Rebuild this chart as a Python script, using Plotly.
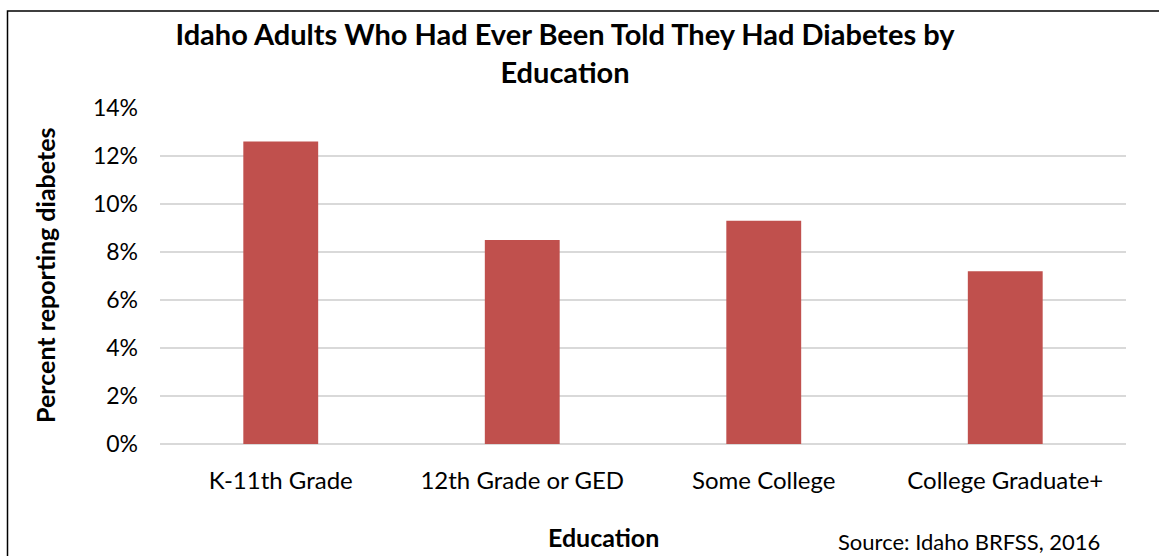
import plotly.graph_objects as go

categories = ["K-11th Grade", "12th Grade or GED", "Some College", "College Graduate+"]
values = [12.6, 8.5, 9.3, 7.2]
tick_vals = [0, 2, 4, 6, 8, 10, 12, 14]
tick_text = ["0%", "2%", "4%", "6%", "8%", "10%", "12%", "14%"]

title_text = "Idaho Adults Who Had Ever Been Told They Had Diabetes by<br>Education"
x_title = "Education"
y_title = "Percent reporting diabetes"
source_text = "Source: Idaho BRFSS, 2016"

W, H = 1159, 556
L, R, T, B = 160, 33, 108, 112
pw, ph = W - L - R, H - T - B

def px_x(px):
    return (px - L) / pw

def px_y(py):
    return (H - B - py) / ph

FONT = "Lato"

fig = go.Figure(
    go.Bar(
        x=categories,
        y=values,
        marker=dict(color="#C0504D", line=dict(width=0)),
        width=0.31,
        hoverinfo="x+y",
    )
)

fig.update_layout(
    width=W,
    height=H,
    margin=dict(l=L, r=R, t=T, b=B),
    paper_bgcolor="white",
    plot_bgcolor="white",
    showlegend=False,
    font=dict(family=FONT, color="black"),
    title=dict(
        text="<b>" + title_text + "</b>",
        x=px_x(565),
        xref="paper",
        xanchor="center",
        y=1 - 45 / H,
        yref="container",
        yanchor="top",
        font=dict(family=FONT, size=29, color="black"),
    ),
    xaxis=dict(
        range=[-0.5, 3.5],
        showgrid=False,
        showline=False,
        zeroline=False,
        ticks="",
        tickfont=dict(family=FONT, size=24, color="black"),
        ticklabelstandoff=20,
    ),
    yaxis=dict(
        range=[0, 14],
        tickvals=tick_vals,
        ticktext=tick_text,
        showgrid=True,
        gridcolor="#D9D9D9",
        gridwidth=1.6,
        zeroline=True,
        zerolinecolor="#D9D9D9",
        zerolinewidth=1.6,
        showline=False,
        ticks="",
        tickfont=dict(family=FONT, size=23, color="black"),
        ticklabelstandoff=21,
    ),
    annotations=[
        dict(
            text="<b>" + x_title + "</b>",
            x=px_x(603), y=px_y(537),
            xref="paper", yref="paper",
            xanchor="center", yanchor="middle",
            showarrow=False,
            font=dict(family=FONT, size=25, color="black"),
        ),
        dict(
            text="<b>" + y_title + "</b>",
            x=px_x(45), y=px_y(275),
            xref="paper", yref="paper",
            xanchor="center", yanchor="middle",
            textangle=-90,
            showarrow=False,
            font=dict(family=FONT, size=25, color="black"),
        ),
        dict(
            text=source_text,
            x=px_x(969), y=px_y(541),
            xref="paper", yref="paper",
            xanchor="center", yanchor="middle",
            showarrow=False,
            font=dict(family=FONT, size=22, color="black"),
        ),
    ],
    shapes=[
        dict(
            type="rect",
            xref="paper", yref="paper",
            x0=px_x(7.5), x1=px_x(1170),
            y0=px_y(570), y1=px_y(11),
            line=dict(color="black", width=1.5),
            fillcolor="rgba(0,0,0,0)",
            layer="above",
        )
    ],
)

fig.write_html(
    "out.html",
    config={"displayModeBar": False},
    post_script="document.body.style.margin='0';document.body.style.overflow='hidden';",
)
